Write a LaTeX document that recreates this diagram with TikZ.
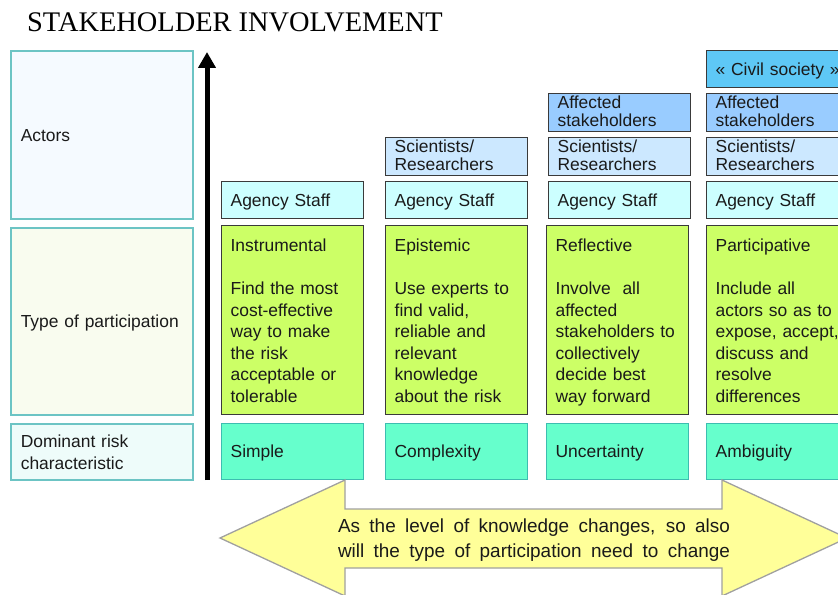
\documentclass[tikz,border=0pt]{standalone}
\usepackage{fontspec}
\setmainfont{Liberation Sans}
\newfontfamily\titlefont{Liberation Serif}
\usetikzlibrary{arrows.meta}
\definecolor{edgedark}{HTML}{3A3A3A}
\definecolor{edgeteal}{HTML}{6CC4C4}
\definecolor{edgeteal2}{HTML}{3DBDB0}
\definecolor{civfill}{HTML}{5EC8F6}
\definecolor{afffill}{HTML}{99CCFF}
\definecolor{scifill}{HTML}{CCE8FF}
\definecolor{agfill}{HTML}{CCFFFF}
\definecolor{greenfill}{HTML}{CCFF66}
\definecolor{tealfill}{HTML}{66FFCC}
\definecolor{actfill}{HTML}{F5FAFF}
\definecolor{typfill}{HTML}{F9FCEF}
\definecolor{domfill}{HTML}{EEFCFA}
\definecolor{arrfill}{HTML}{FFFF99}
\definecolor{arredge}{HTML}{A0A0A0}
\definecolor{txt}{HTML}{1A1A1A}
\newcommand\hstr{\rule{0pt}{16bp}}
\newcommand\dstr{\rule[-3bp]{0pt}{3bp}}
\newcommand\ghstr{\rule{0pt}{18bp}}
\newcommand\gdstr{\rule[-4bp]{0pt}{4bp}}
\begin{document}
\begin{tikzpicture}[x=1bp,y=-1bp,
  every node/.style={font=\fontsize{17.5}{21.6}\selectfont, text=txt},
  cell/.style={rectangle, anchor=north west, align=left, inner xsep=9bp, inner ysep=0bp, line width=1.3bp},
  actor/.style={cell, draw=edgedark, text width=124bp, minimum height=37bp, font=\fontsize{17.5}{18}\selectfont},
  civ/.style={actor, fill=civfill},
  aff/.style={actor, fill=afffill, minimum height=38bp},
  sci/.style={actor, fill=scifill, minimum height=38bp},
  agency/.style={actor, fill=agfill},
  ptype/.style={cell, draw=edgedark, fill=greenfill, text width=124bp, minimum height=189bp},
  riskc/.style={cell, draw=edgeteal2, fill=tealfill, text width=124bp, minimum height=56bp},
  rowlbl/.style={cell, draw=edgeteal, line width=1.6bp, inner xsep=10bp, text width=162bp},
  axis/.style={line width=5bp, -{Triangle[width=17bp,length=16bp]}},
  bigarrow/.style={draw=arredge, line width=1.3bp, fill=arrfill, line join=miter}
]
\useasboundingbox (0,0) rectangle (838,595);

% title
\node[anchor=base west, inner sep=0pt, font=\titlefont\fontsize{28.5}{30}\selectfont, text=black] (title) at (27,32) {STAKEHOLDER INVOLVEMENT};

% row labels
\node[rowlbl, fill=actfill, minimum height=168bp] (lactors) at (10,50) {\hstr Actors\dstr};
\node[rowlbl, fill=typfill, minimum height=187bp] (ltype) at (10,227) {\hstr Type of participation\dstr};
\node[rowlbl, fill=domfill, minimum height=56bp] (ldom) at (10,423) {\hstr Dominant risk\\characteristic\dstr};

% axis
\coordinate (axisbot) at (207,480);
\coordinate (axistop) at (207,52);
\draw[axis] (axisbot) -- (axistop);

% column 1
\node[agency] (ag1) at (221,181) {\hstr Agency Staff\dstr};
\node[ptype] (p1) at (221,225) {\ghstr Instrumental\\[21.6bp]Find the most\\cost-effective\\way to make\\the risk\\acceptable or\\tolerable\gdstr};
\node[riskc] (r1) at (221,423) {\hstr Simple\dstr};

% column 2
\node[sci] (sc2) at (385,137) {Scientists/\\Researchers\dstr};
\node[agency] (ag2) at (385,181) {\hstr Agency Staff\dstr};
\node[ptype] (p2) at (385,225) {\ghstr Epistemic\\[21.6bp]Use experts to\\find valid,\\reliable and\\relevant\\knowledge\\about the risk\gdstr};
\node[riskc] (r2) at (385,423) {\hstr Complexity\dstr};

% column 3
\node[aff] (af3) at (548,93) {Affected\\stakeholders\dstr};
\node[sci] (sc3) at (548,137) {Scientists/\\Researchers\dstr};
\node[agency] (ag3) at (548,181) {\hstr Agency Staff\dstr};
\node[ptype] (p3) at (546,225) {\ghstr Reflective\\[21.6bp]Involve\ \ all\\affected\\stakeholders~to\\collectively\\decide best\\way forward\gdstr};
\node[riskc] (r3) at (546,423) {\hstr Uncertainty\dstr};

% column 4
\node[civ] (cv4) at (706,50) {\hstr\mbox{« Civil society »}\dstr};
\node[aff] (af4) at (706,93) {Affected\\stakeholders\dstr};
\node[sci] (sc4) at (706,137) {Scientists/\\Researchers\dstr};
\node[agency] (ag4) at (706,181) {\hstr Agency Staff\dstr};
\node[ptype] (p4) at (706,225) {\ghstr Participative\\[21.6bp]Include all\\actors so as to\\expose,~accept,\\discuss and\\resolve\\differences\gdstr};
\node[riskc] (r4) at (706,423) {\hstr Ambiguity\dstr};

% big double arrow
\draw[bigarrow] (220,538) -- (345,480) -- (345,509) -- (722,509) -- (722,480) -- (847,538)
  -- (722,596) -- (722,568) -- (345,568) -- (345,596) -- cycle;
\node[align=left, inner sep=0pt, font=\fontsize{19}{25}\selectfont] (arrtext) at (534,540)
  {\makebox[392bp][s]{As the level of knowledge changes, so also}\\
   \makebox[392bp][s]{will the type of participation need to change}};
\end{tikzpicture}
\end{document}
